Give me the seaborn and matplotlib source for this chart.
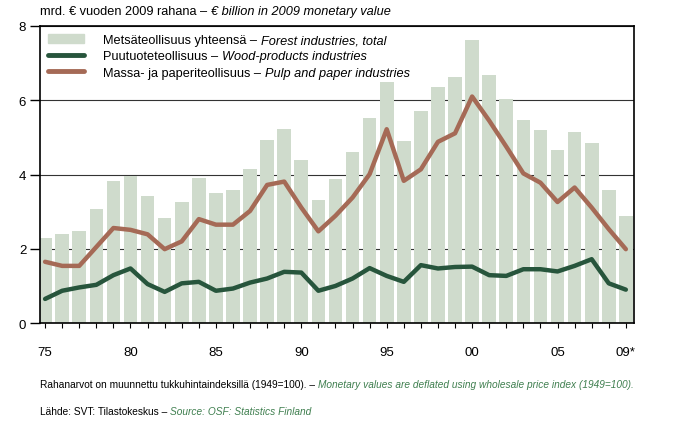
import numpy as np
import pandas as pd
import matplotlib.pyplot as plt
from matplotlib.patches import Patch
from matplotlib.lines import Line2D
import seaborn as sns

#%% Data (€ billion in 2009 money)

years = list(range(1975, 2010))
forest_total = [2.30, 2.41, 2.48, 3.08, 3.83, 3.96, 3.43, 2.83, 3.26, 3.90,
                3.49, 3.59, 4.16, 4.92, 5.22, 4.39, 3.31, 3.89, 4.60, 5.52,
                6.48, 4.91, 5.71, 6.36, 6.63, 7.62, 6.69, 6.03, 5.46, 5.19,
                4.65, 5.15, 4.84, 3.58, 2.88]
wood_products = [0.65, 0.87, 0.96, 1.03, 1.29, 1.47, 1.05, 0.84, 1.07, 1.11,
                 0.87, 0.93, 1.09, 1.20, 1.38, 1.36, 0.87, 1.00, 1.20, 1.48,
                 1.27, 1.11, 1.56, 1.47, 1.51, 1.52, 1.29, 1.27, 1.45, 1.45,
                 1.39, 1.54, 1.72, 1.07, 0.90]
pulp_paper = [1.65, 1.54, 1.54, 2.05, 2.56, 2.51, 2.39, 1.99, 2.20, 2.80,
              2.65, 2.65, 3.02, 3.72, 3.81, 3.11, 2.47, 2.89, 3.38, 4.01,
              5.22, 3.83, 4.14, 4.88, 5.11, 6.10, 5.45, 4.75, 4.03, 3.78,
              3.26, 3.65, 3.11, 2.53, 1.99]

tick_years = [1975, 1980, 1985, 1990, 1995, 2000, 2005, 2009]
tick_labels = ['75', '80', '85', '90', '95', '00', '05', '09*']

legend_fi = ['Metsäteollisuus yhteensä – ',
             'Puutuoteteollisuus – ',
             'Massa- ja paperiteollisuus – ']
legend_en = ['Forest industries, total',
             'Wood-products industries',
             'Pulp and paper industries']

bar_color = '#cfdbcc'
wood_color = '#27553c'
pulp_color = '#a56a56'
note_green = '#3f7f4f'
fs = 9.2

#%% Style

sns.set_theme(style='white')
plt.rcParams['font.family'] = ['Liberation Sans', 'DejaVu Sans']
plt.rcParams.update({'text.color': 'black', 'xtick.color': 'black',
                     'ytick.color': 'black', 'axes.edgecolor': 'black'})

df = pd.DataFrame({'year': years, 'total': forest_total,
                   'wood': wood_products, 'pulp': pulp_paper})

fig = plt.figure(figsize=(6.92, 4.35), dpi=100)
ax = fig.add_axes([0.058, 0.255, 0.858, 0.683])

sns.barplot(data=df, x='year', y='total', native_scale=True, width=0.8,
            color=bar_color, saturation=1, errorbar=None, linewidth=0,
            ax=ax, zorder=2)
sns.lineplot(data=df, x='year', y='wood', color=wood_color, lw=3.2,
             solid_capstyle='round', solid_joinstyle='round', ax=ax, zorder=3)
sns.lineplot(data=df, x='year', y='pulp', color=pulp_color, lw=3.2,
             solid_capstyle='round', solid_joinstyle='round', ax=ax, zorder=3)

ax.set_xlim(1974.71, 2009.47)
ax.set_ylim(0, 8)
ax.set_yticks([0, 2, 4, 6, 8])
ax.set_xticks(tick_years, tick_labels)
ax.set_xticks(years, minor=True)
ax.set_xlabel('')
ax.set_ylabel('')

ax.yaxis.grid(True, color='#333333', lw=0.8)
ax.set_axisbelow(True)
for sp in ax.spines.values():
    sp.set_visible(True)
    sp.set_color('black')
    sp.set_linewidth(1.2)

ax.tick_params(axis='y', which='major', left=True, length=7, width=1,
               pad=3, labelsize=9.5, direction='out')
ax.tick_params(axis='x', which='both', bottom=True, length=3.5, width=0.8,
               pad=13, labelsize=9.5, direction='out')

# legend: finnish part regular, english part italic right after it
handles = [Patch(color=bar_color),
           Line2D([], [], color=wood_color, lw=3.5, solid_capstyle='round'),
           Line2D([], [], color=pulp_color, lw=3.5, solid_capstyle='round')]
leg = ax.legend(handles, legend_fi, loc='upper left', bbox_to_anchor=(0.0, 1.0),
                frameon=False, fontsize=fs, handlelength=2.8,
                handletextpad=1.5, labelspacing=0.33, borderaxespad=0.55,
                borderpad=0.1)
for t, en in zip(leg.get_texts(), legend_en):
    ax.annotate(en, xy=(1, 0), xycoords=t, va='bottom', ha='left',
                fontsize=fs, fontstyle='italic', annotation_clip=False,
                zorder=10)

# title line
t1 = fig.text(0.058, 0.972, 'mrd. € vuoden 2009 rahana – ', fontsize=fs,
              va='center')
ax.annotate('€ billion in 2009 monetary value', xy=(1, 0), xycoords=t1,
            va='bottom', ha='left', fontsize=fs, fontstyle='italic',
            annotation_clip=False, zorder=10)

# footnotes
n1 = fig.text(0.058, 0.115, 'Rahanarvot on muunnettu tukkuhintaindeksillä (1949=100). – ',
              fontsize=7.3, va='center')
ax.annotate('Monetary values are deflated using wholesale price index (1949=100).',
            xy=(1, 0), xycoords=n1, va='bottom', ha='left', fontsize=7.3,
            fontstyle='italic', color=note_green, annotation_clip=False,
            zorder=10)
n2 = fig.text(0.058, 0.053, 'Lähde: SVT: Tilastokeskus – ', fontsize=7.3,
              va='center')
ax.annotate('Source: OSF: Statistics Finland', xy=(1, 0), xycoords=n2,
            va='bottom', ha='left', fontsize=7.3, fontstyle='italic',
            color=note_green, annotation_clip=False, zorder=10)

fig.savefig('out.png', dpi=100)
